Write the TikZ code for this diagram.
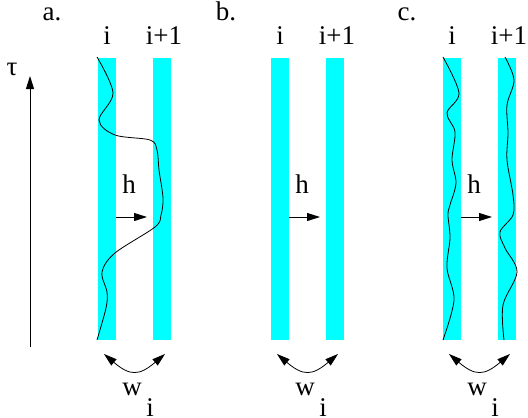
\documentclass[tikz,border=0pt]{standalone}
\usepackage{fontspec}
\setmainfont{Liberation Serif}
\usetikzlibrary{arrows.meta}
\definecolor{stripC}{RGB}{0,255,255}

\begin{document}
\begin{tikzpicture}[x=1pt,y=-1pt,>={Triangle[length=13pt,width=8pt]},
  lbl/.style={anchor=base,inner sep=0pt,font=\fontsize{27}{30}\selectfont},
  walk/.style={line width=0.8pt,smooth,tension=0.55}]
\useasboundingbox (0,0) rectangle (528,418);
\coordinate (tau0) at (30,347);
\coordinate (tau1) at (30,76);
\draw[->,line width=1pt] (tau0)--(tau1);
\node[lbl] (tau) at (12,75) {τ};
\foreach \p/\x/\dx/\name in {a/98/-46/a.,b/271/-45/b.,c/443/-36/c.}{
  \fill[stripC] (\x,58) rectangle ++(18,282);
  \fill[stripC] (\x+55,58) rectangle ++(18,282);
  \node[lbl] (name\p) at (\x+\dx,20) {\name};
  \node[lbl] (i\p) at (\x+9,44) {i};
  \node[lbl] (ii\p) at (\x+66,44) {i+1};
  \node[lbl] (h\p) at (\x+31,193) {h};
  \coordinate (hs\p) at (\x+18,217);
  \coordinate (he\p) at (\x+49,217);
  \draw[->,line width=1pt] (hs\p)--(he\p);
  \coordinate (wl\p) at (\x+6,354);
  \coordinate (wr\p) at (\x+67,354);
  \draw[<->,line width=0.8pt] (wl\p) .. controls (\x+32,376) and (\x+41,376) .. (wr\p);
  \node[lbl] (w\p) at (\x+34,395) {w};
  \node[lbl] (wi\p) at (\x+52,416) {i};
}
\draw[walk] plot coordinates {(97,57) (113,93) (99,120) (115,135) (150,140) (157,150)
  (159,170) (163,198) (161,215) (155,227) (115,253) (102,272) (107,292) (106,308) (97,340)};
\draw[walk] plot coordinates {(443,57) (459,93) (447,113) (455,132) (452,160) (456,183)
  (450,205) (448,215) (450,238) (447,268) (454,300) (443,340)};
\draw[walk] plot coordinates {(505,57) (514,80) (507,105) (508,133) (507,160) (513,195)
  (513,215) (500,232) (505,248) (517,272) (503,305) (504,340)};
\end{tikzpicture}
\end{document}
